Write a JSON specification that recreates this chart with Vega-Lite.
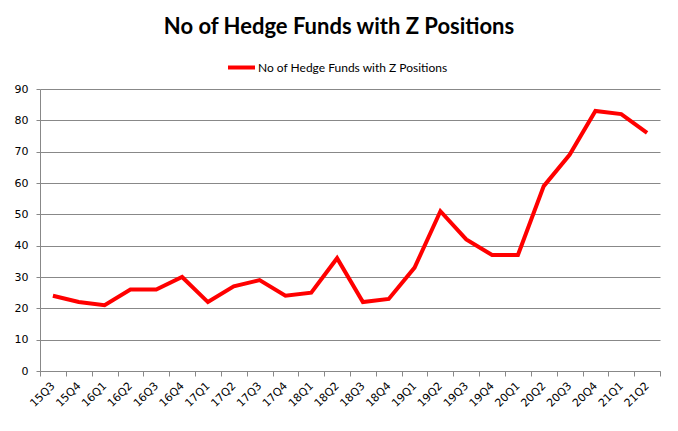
{
  "$schema": "https://vega.github.io/schema/vega-lite/v6.json",
  "width": 620,
  "height": 282,
  "autosize": {"type": "none"},
  "padding": {"left": 40, "top": 89, "right": 18, "bottom": 60},
  "background": "white",
  "title": {
    "text": "No of Hedge Funds with Z Positions",
    "font": "Lato",
    "fontSize": 22,
    "fontWeight": "bold",
    "color": "#000000",
    "anchor": "middle",
    "dx": -11,
    "offset": 13
  },
  "data": {
    "values": [
      {"q": "15Q3", "v": 24, "s": "No of Hedge Funds with Z Positions"},
      {"q": "15Q4", "v": 22, "s": "No of Hedge Funds with Z Positions"},
      {"q": "16Q1", "v": 21, "s": "No of Hedge Funds with Z Positions"},
      {"q": "16Q2", "v": 26, "s": "No of Hedge Funds with Z Positions"},
      {"q": "16Q3", "v": 26, "s": "No of Hedge Funds with Z Positions"},
      {"q": "16Q4", "v": 30, "s": "No of Hedge Funds with Z Positions"},
      {"q": "17Q1", "v": 22, "s": "No of Hedge Funds with Z Positions"},
      {"q": "17Q2", "v": 27, "s": "No of Hedge Funds with Z Positions"},
      {"q": "17Q3", "v": 29, "s": "No of Hedge Funds with Z Positions"},
      {"q": "17Q4", "v": 24, "s": "No of Hedge Funds with Z Positions"},
      {"q": "18Q1", "v": 25, "s": "No of Hedge Funds with Z Positions"},
      {"q": "18Q2", "v": 36, "s": "No of Hedge Funds with Z Positions"},
      {"q": "18Q3", "v": 22, "s": "No of Hedge Funds with Z Positions"},
      {"q": "18Q4", "v": 23, "s": "No of Hedge Funds with Z Positions"},
      {"q": "19Q1", "v": 33, "s": "No of Hedge Funds with Z Positions"},
      {"q": "19Q2", "v": 51, "s": "No of Hedge Funds with Z Positions"},
      {"q": "19Q3", "v": 42, "s": "No of Hedge Funds with Z Positions"},
      {"q": "19Q4", "v": 37, "s": "No of Hedge Funds with Z Positions"},
      {"q": "20Q1", "v": 37, "s": "No of Hedge Funds with Z Positions"},
      {"q": "20Q2", "v": 59, "s": "No of Hedge Funds with Z Positions"},
      {"q": "20Q3", "v": 69, "s": "No of Hedge Funds with Z Positions"},
      {"q": "20Q4", "v": 83, "s": "No of Hedge Funds with Z Positions"},
      {"q": "21Q1", "v": 82, "s": "No of Hedge Funds with Z Positions"},
      {"q": "21Q2", "v": 76, "s": "No of Hedge Funds with Z Positions"}
    ]
  },
  "mark": {"type": "line", "strokeWidth": 4, "strokeJoin": "miter"},
  "encoding": {
    "x": {
      "field": "q",
      "type": "ordinal",
      "sort": null,
      "scale": {"type": "band", "paddingInner": 0, "paddingOuter": 0},
      "axis": {
        "title": null,
        "tickBand": "extent",
        "labelAngle": -45,
        "labelFont": "Verdana, DejaVu Sans",
        "labelFontSize": 11,
        "labelColor": "#000000",
        "labelAlign": "right",
        "labelBaseline": "middle",
        "labelPadding": 8,
        "domainColor": "#888888",
        "tickColor": "#888888",
        "tickSize": 5,
        "grid": false
      }
    },
    "y": {
      "field": "v",
      "type": "quantitative",
      "scale": {"domain": [0, 90], "nice": false},
      "axis": {
        "title": null,
        "values": [0, 10, 20, 30, 40, 50, 60, 70, 80, 90],
        "labelFont": "Verdana, DejaVu Sans",
        "labelFontSize": 11,
        "labelColor": "#000000",
        "labelPadding": 8,
        "domainColor": "#888888",
        "tickColor": "#888888",
        "tickSize": 4,
        "grid": true,
        "gridColor": "#888888",
        "gridWidth": 1
      }
    },
    "color": {
      "field": "s",
      "type": "nominal",
      "scale": {"range": ["#ff0000"]},
      "legend": {
        "title": null,
        "orient": "none",
        "legendX": 186,
        "legendY": -37,
        "direction": "horizontal",
        "symbolType": "stroke",
        "symbolStrokeWidth": 4,
        "symbolSize": 729,
        "labelLimit": 0,
        "labelOffset": 1,
        "labelFont": "Lato",
        "labelFontSize": 12,
        "labelColor": "#000000"
      }
    }
  },
  "config": {"view": {"stroke": null}}
}
